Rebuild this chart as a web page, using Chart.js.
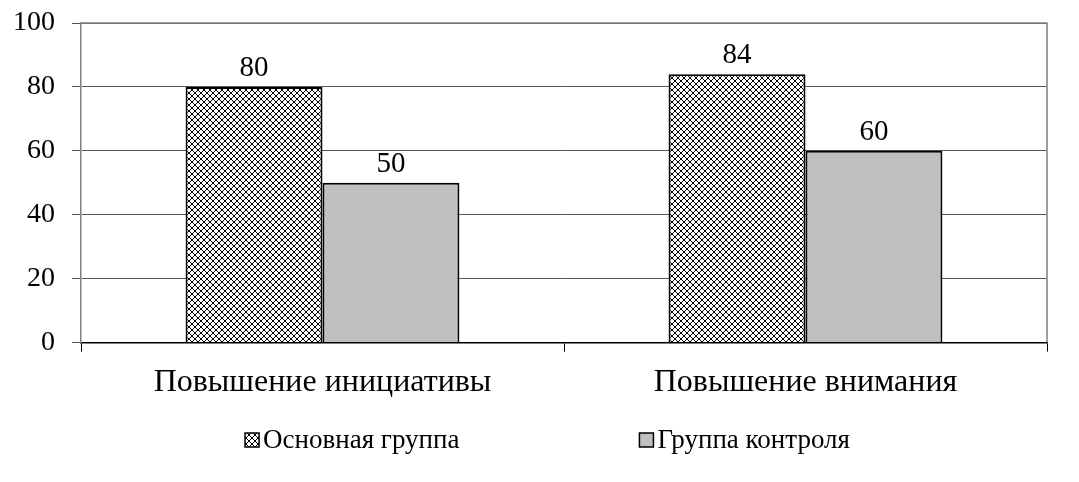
<!DOCTYPE html>
<html>
<head>
<meta charset="utf-8">
<script src="https://cdn.jsdelivr.net/npm/chart.js@4"></script>
<style>
  html, body { margin: 0; padding: 0; background: #fff; }
  #wrap { width: 1079px; height: 482px; }
</style>
</head>
<body>
<div id="wrap"><canvas id="chart"></canvas></div>
<script>
const categories = ['Повышение инициативы', 'Повышение внимания'];
const mainGroup = [80, 84];
const controlGroup = [50, 60];
const seriesNames = ['Основная группа', 'Группа контроля'];
const yTicks = [0, 20, 40, 60, 80, 100];

const FONT = '"Liberation Serif", "Times New Roman", serif';

// crosshatch fill like the old office pattern
function makeHatch() {
  const c = document.createElement('canvas');
  c.width = 6; c.height = 6;
  const g = c.getContext('2d');
  g.fillStyle = '#fff';
  g.fillRect(0, 0, 6, 6);
  g.fillStyle = '#000';
  for (let i = 0; i < 6; i++) {
    g.fillRect(i, i, 1, 1);
    g.fillRect(i, 5 - i, 1, 1);
  }
  return g.createPattern(c, 'repeat');
}
const hatch = makeHatch();

const valueLabels = {
  id: 'valueLabels',
  afterDatasetsDraw(chart) {
    const ctx = chart.ctx;
    ctx.save();
    ctx.font = '29px ' + FONT;
    ctx.fillStyle = '#000';
    ctx.textAlign = 'center';
    ctx.textBaseline = 'alphabetic';
    chart.data.datasets.forEach((ds, i) => {
      chart.getDatasetMeta(i).data.forEach((bar, j) => {
        ctx.fillText(ds.data[j], bar.x, bar.y - 11);
      });
    });
    ctx.restore();
  }
};

const plotFrame = {
  id: 'plotFrame',
  beforeDatasetsDraw(chart) {
    const a = chart.chartArea, ctx = chart.ctx;
    ctx.save();
    ctx.strokeStyle = '#808080';
    ctx.lineWidth = 1.5;
    ctx.beginPath();
    ctx.moveTo(a.left, a.top);
    ctx.lineTo(a.right, a.top);
    ctx.lineTo(a.right, a.bottom);
    ctx.stroke();
    ctx.restore();
  }
};

const bottomLegend = {
  id: 'bottomLegend',
  afterDraw(chart) {
    const ctx = chart.ctx;
    ctx.save();
    ctx.font = '27px ' + FONT;
    ctx.textBaseline = 'middle';
    const box = 14, gapText = 4, gapItem = 180, y = 440;
    const widths = chart.data.datasets.map(ds => box + gapText + ctx.measureText(ds.label).width);
    const total = widths.reduce((s, w) => s + w, 0) + gapItem * (widths.length - 1);
    let x = chart.width / 2 + 8 - total / 2;
    chart.data.datasets.forEach((ds, i) => {
      ctx.fillStyle = ds.backgroundColor;
      ctx.fillRect(x, y - box / 2, box, box);
      ctx.strokeStyle = '#000';
      ctx.lineWidth = 1.5;
      ctx.strokeRect(x, y - box / 2, box, box);
      ctx.fillStyle = '#000';
      ctx.fillText(ds.label, x + box + gapText, y + 1);
      x += widths[i] + gapItem;
    });
    ctx.restore();
  }
};

new Chart(document.getElementById('chart'), {
  type: 'bar',
  data: {
    labels: categories,
    datasets: [
      { label: seriesNames[0], data: mainGroup, backgroundColor: hatch, borderColor: '#000', borderWidth: 2 },
      { label: seriesNames[1], data: controlGroup, backgroundColor: '#c0c0c0', borderColor: '#000', borderWidth: 2 }
    ]
  },
  options: {
    responsive: true,
    maintainAspectRatio: false,
    animation: false,
    datasets: { bar: { categoryPercentage: 0.567, barPercentage: 1 } },
    layout: { padding: { left: 0, right: 32, top: 23, bottom: 68 } },
    plugins: {
      legend: { display: false },
      tooltip: { enabled: false }
    },
    scales: {
      x: {
        offset: true,
        grid: { offset: true, drawOnChartArea: false, color: '#000', tickLength: 9 },
        border: { color: '#000', width: 1.5 },
        ticks: { color: '#000', font: { family: FONT, size: 32 }, padding: 12 }
      },
      y: {
        min: 0, max: 100,
        afterBuildTicks: axis => { axis.ticks = yTicks.map(v => ({ value: v })); },
        afterFit: axis => { axis.width = 81; axis.paddingTop = 0; axis.paddingBottom = 0; },
        grid: { color: '#555', tickLength: 9 },
        border: { color: '#808080', width: 1.5 },
        ticks: { color: '#000', font: { family: FONT, size: 28 }, padding: 17 }
      }
    }
  },
  plugins: [valueLabels, plotFrame, bottomLegend]
});
</script>
</body>
</html>
